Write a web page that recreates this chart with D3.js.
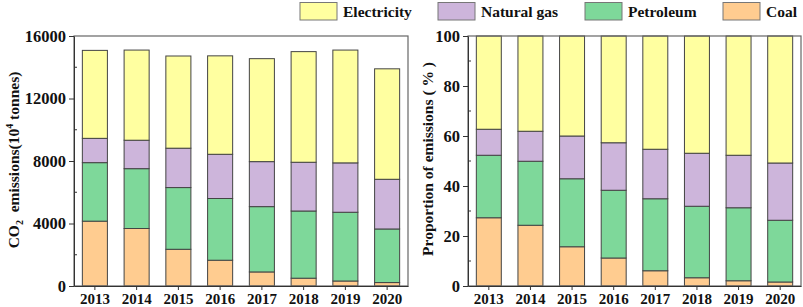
<!DOCTYPE html>
<html><head><meta charset="utf-8">
<script src="https://cdn.jsdelivr.net/npm/d3@7/dist/d3.min.js"></script>
<style>
body{margin:0;background:#fff;}
svg text{font-family:"Liberation Serif","Times New Roman",serif !important;font-weight:bold;fill:#111;}
</style></head>
<body><svg id="c" width="803" height="307"></svg>
<script>
const years = ["2013","2014","2015","2016","2017","2018","2019","2020"];
const seriesNames = ["Coal","Petroleum","Natural gas","Electricity"];
// absolute emissions (10^4 tonnes)
const coal = [4150, 3680, 2350, 1650, 900, 500, 320, 220];
const petroleum = [3745, 3830, 3950, 3950, 4180, 4300, 4400, 3430];
const naturalGas = [1555, 1820, 2520, 2830, 2880, 3120, 3160, 3180];
const electricity = [5630, 5770, 5900, 6300, 6590, 7080, 7220, 7070];
// proportions (%)
const coalPct = [27.3, 24.3, 15.7, 11.2, 6.1, 3.3, 2.1, 1.6];
const petroleumPct = [25.0, 25.6, 27.2, 27.1, 28.8, 28.6, 29.2, 24.7];
const naturalGasPct = [10.4, 12.0, 17.1, 19.0, 19.8, 21.2, 21.0, 22.9];
const electricityPct = [37.3, 38.1, 40.0, 42.7, 45.3, 46.9, 47.7, 50.8];
const leftTicks = [0, 4000, 8000, 12000, 16000];
const rightTicks = [0, 20, 40, 60, 80, 100];

const FONT = '"Liberation Serif","Times New Roman",serif';
const colors = {"Coal":"#FFCC90","Petroleum":"#7ED89A","Natural gas":"#CDB5DB","Electricity":"#FFFFA0"};
const svg = d3.select("#c");

function panel(x0, x1, yMax, ticks, data, minorStep){
  const y = d3.scaleLinear().domain([0, yMax]).range([286, 36]);
  const x = d3.scaleBand().domain(years).range([x0, x1]).paddingInner(0.4).paddingOuter(0.2);
  const g = svg.append("g");
  const rows = years.map((yr,i)=>{const o={year:yr}; seriesNames.forEach(s=>o[s]=data[s][i]); return o;});
  const stack = d3.stack().keys(seriesNames)(rows);
  stack.forEach(layer=>{
    g.selectAll(null).data(layer).enter().append("rect")
      .attr("x", d=>x(d.data.year)).attr("width", x.bandwidth())
      .attr("y", d=>y(d[1])).attr("height", d=>y(d[0])-y(d[1]))
      .attr("fill", colors[layer.key]).attr("stroke","#444").attr("stroke-width",1);
  });
  g.append("rect").attr("x",x0).attr("y",36).attr("width",x1-x0).attr("height",250)
    .attr("fill","none").attr("stroke","#666").attr("stroke-width",1.2);
  const ya = d3.axisLeft(y).tickValues(ticks).tickFormat(d3.format("d")).tickSize(5).tickSizeOuter(0).tickPadding(3);
  const yg = g.append("g").attr("transform",`translate(${x0},0)`).call(ya)
    .attr("font-family", FONT).attr("font-weight","bold");
  yg.select(".domain").attr("stroke","#333");
  yg.selectAll(".tick line").attr("stroke","#333");
  yg.selectAll("text").style("font-size","16.5px").style("font-family",FONT).style("font-weight","bold").attr("fill","#111");
  const minors = d3.range(minorStep, yMax, minorStep*2);
  g.selectAll(null).data(minors).enter().append("line")
    .attr("x1",x0).attr("x2",x0+3).attr("y1",d=>y(d)).attr("y2",d=>y(d)).attr("stroke","#333");
  const xa = d3.axisBottom(x).tickSize(4).tickSizeOuter(0).tickPadding(3);
  const xg = g.append("g").attr("transform","translate(0,286)").call(xa)
    .attr("font-family", FONT).attr("font-weight","bold");
  xg.select(".domain").attr("stroke","#333");
  xg.selectAll(".tick line").attr("stroke","#333");
  xg.selectAll("text").style("font-size","15px").style("font-family",FONT).style("font-weight","bold").attr("fill","#111");
  return g;
}

panel(74, 408, 16000, leftTicks,
  {"Coal":coal,"Petroleum":petroleum,"Natural gas":naturalGas,"Electricity":electricity}, 2000);
panel(468, 801, 100, rightTicks,
  {"Coal":coalPct,"Petroleum":petroleumPct,"Natural gas":naturalGasPct,"Electricity":electricityPct}, 10);

const l1 = svg.append("text").attr("transform","translate(19,160) rotate(-90)")
  .attr("text-anchor","middle").style("font-size","15.5px").style("font-family",FONT);
l1.append("tspan").text("CO");
l1.append("tspan").text("2").style("font-size","10px").attr("dy",4);
l1.append("tspan").text("\u00a0 emissions(10").attr("dy",-4);
l1.append("tspan").text("4").style("font-size","10px").attr("dy",-6);
l1.append("tspan").text(" tonnes)").attr("dy",6);

svg.append("text").attr("transform","translate(433,159) rotate(-90)")
  .attr("text-anchor","middle").style("font-size","15.5px").style("font-family",FONT)
  .text("Proportion of emissions ( % )");

const legendOrder = ["Electricity","Natural gas","Petroleum","Coal"];
const legendX = [300, 438, 585, 723];
legendOrder.forEach((s,i)=>{
  svg.append("rect").attr("x",legendX[i]).attr("y",2.5).attr("width",37).attr("height",17.5)
    .attr("fill",colors[s]).attr("stroke","#777").attr("stroke-width",1);
  svg.append("text").attr("x",legendX[i]+43).attr("y",17).style("font-size","15.5px").style("font-family",FONT).text(s);
});
</script></body></html>
